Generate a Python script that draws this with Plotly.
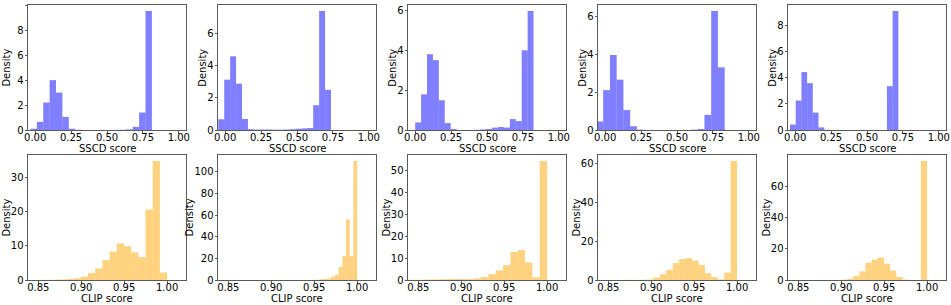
import plotly.graph_objects as go

# ---------------- data ----------------
# SSCD score histograms (density), one per panel: first bin left edge, bin width, densities
sscd_bin_start = [-0.033, -0.048, 0.0, -0.061, -0.036]
sscd_bin_width = [0.0445, 0.0413, 0.0412, 0.047, 0.0397]
sscd_density_1 = [0.1, 0.65, 2.2, 4.0, 3.0, 1.05, 0.1, 0.02, 0, 0, 0, 0, 0, 0.01, 0.02, 0.05, 0.25, 1.4, 9.55]
sscd_density_2 = [0.67, 3.14, 4.6, 2.89, 0.69, 0.05, 0.03, 0.03, 0.03, 0.02, 0.02, 0.03, 0.05, 0.08, 0.1, 0.12, 1.55, 7.43, 2.51]
sscd_density_3 = [0.38, 1.8, 3.82, 3.52, 1.5, 0.35, 0.05, 0, 0, 0, 0.01, 0.03, 0.05, 0.12, 0.15, 0.12, 0.55, 0.45, 4.02, 6.0]
sscd_density_4 = [0.45, 2.1, 3.95, 2.65, 1.05, 0.2, 0.02, 0, 0, 0, 0, 0, 0, 0, 0.02, 0.05, 0.8, 6.27, 3.3]
sscd_density_5 = [0.42, 2.25, 4.43, 3.58, 1.33, 0.2, 0.02, 0, 0, 0, 0, 0, 0, 0, 0, 0, 0, 3.35, 9.1]

# CLIP score histograms (density)
clip_bin_start = [0.8326, 0.914, 0.8292, 0.85, 0.8564]
clip_bin_width = [0.00837, 0.0043, 0.00854, 0.0075, 0.00718]
clip_density_1 = [0.02, 0.02, 0.03, 0.05, 0.1, 0.15, 0.3, 0.5, 1.0, 2.0, 3.4, 5.8, 8.3, 10.7, 9.9, 8.1, 6.7, 20.6, 34.8, 2.2]
clip_density_2 = [0.03, 0.03, 0.03, 0.05, 0.05, 0.05, 0.05, 0.05, 0.1, 0.3, 0.8, 1.0, 1.5, 3.0, 5.0, 12.0, 22.0, 56.0, 22.0, 110.0]
clip_density_3 = [0.1, 0.1, 0.1, 0.2, 0.3, 0.3, 0.4, 0.5, 0.4, 0.4, 0.7, 1.3, 2.7, 4.4, 6.8, 12.8, 13.7, 8.0, 1.2, 54.5]
clip_density_4 = [0.02, 0.02, 0.03, 0.05, 0.05, 0.1, 0.3, 1.3, 3.0, 5.2, 8.7, 10.8, 11.3, 10.0, 7.8, 3.5, 1.5, 0.3, 3.8, 61.5]
clip_density_5 = [0.02, 0.02, 0.03, 0.05, 0.05, 0.1, 0.2, 0.8, 2.5, 5.5, 11.0, 13.0, 14.3, 10.4, 6.0, 1.9, 0.3, 0, 0, 76.0]

sscd_ticks = [0.0, 0.25, 0.5, 0.75, 1.0]
clip_ticks = [0.85, 0.90, 0.95, 1.00]
sscd_ydtick = [2, 2, 2, 2, 2]
clip_ydtick = [10, 20, 10, 20, 20]

x_label_top = "SSCD score"
x_label_bottom = "CLIP score"
y_label = "Density"

# ---------------- styling / layout ----------------
W, H = 951, 305
FONT = "DejaVu Sans"
FS = 10
BLUE = "rgba(0,0,255,0.5)"
ORANGE = "rgba(255,165,0,0.5)"
SPINE = "#5a5a5a"

panel_left_px = [28, 218, 408, 598, 788]
panel_w_px = 158
row_px = [(5, 130), (155, 280)]
xtitle_center_px = [148.5, 298]

sscd_sets = [sscd_density_1, sscd_density_2, sscd_density_3, sscd_density_4, sscd_density_5]
clip_sets = [clip_density_1, clip_density_2, clip_density_3, clip_density_4, clip_density_5]

fig = go.Figure()
layout = dict(
    width=W, height=H, margin=dict(l=0, r=0, t=0, b=0, autoexpand=False),
    paper_bgcolor="white", plot_bgcolor="white",
    showlegend=False, font=dict(family=FONT, size=FS, color="black"),
)
annotations = []


def axis_common():
    return dict(
        showgrid=False, zeroline=False, showline=True, linecolor=SPINE, linewidth=1,
        mirror=True, ticks="outside", ticklen=2.5, tickwidth=1, tickcolor=SPINE,
        tickfont=dict(family=FONT, size=FS, color="black"), automargin=False,
    )


n = 0
for row, (dsets, starts, widths, color, xr, xticks, xt, ydt) in enumerate([
    (sscd_sets, sscd_bin_start, sscd_bin_width, BLUE, [-0.05, 1.05], sscd_ticks, x_label_top, sscd_ydtick),
    (clip_sets, clip_bin_start, clip_bin_width, ORANGE, [0.838, 1.022], clip_ticks, x_label_bottom, clip_ydtick),
]):
    top, bot = row_px[row]
    for col in range(5):
        n += 1
        dens = dsets[col]
        w = widths[col]
        centers = [starts[col] + w * (i + 0.5) for i in range(len(dens))]
        xa = "x" if n == 1 else f"x{n}"
        ya = "y" if n == 1 else f"y{n}"
        fig.add_trace(go.Bar(
            x=centers, y=dens, width=w, marker=dict(color=color, line=dict(width=0)),
            xaxis=xa, yaxis=ya, hoverinfo="x+y",
        ))
        left = panel_left_px[col]
        xd = [left / W, (left + panel_w_px) / W]
        yd = [(H - bot) / H, (H - top) / H]
        xax = axis_common()
        xax.update(domain=xd, range=xr, tickvals=xticks, tickformat=".2f", anchor=ya,
                   ticklabelstandoff=-5)
        ymax = max(dens) * 1.05
        yax = axis_common()
        yax.update(domain=yd, range=[0, ymax], dtick=ydt[col], tick0=0, anchor=xa,
                   ticklabelstandoff=-1)
        layout["xaxis" if n == 1 else f"xaxis{n}"] = xax
        layout["yaxis" if n == 1 else f"yaxis{n}"] = yax

        # axis titles as annotations (matplotlib-like placement)
        annotations.append(dict(
            text=xt, xref="paper", yref="paper", showarrow=False,
            x=(left + panel_w_px / 2) / W, y=(H - xtitle_center_px[row]) / H,
            xanchor="center", yanchor="middle", font=dict(family=FONT, size=FS),
        ))
        top_tick = int(ymax // ydt[col]) * ydt[col]
        ndig = len(str(top_tick))
        offset = 9.5 + 6.2 * ndig
        annotations.append(dict(
            text=y_label, xref="paper", yref="paper", showarrow=False, textangle=-90,
            x=(left - offset) / W, y=(H - (top + bot) / 2) / H,
            xanchor="center", yanchor="middle", font=dict(family=FONT, size=FS),
        ))

layout["annotations"] = annotations
fig.update_layout(**layout)
fig.write_html(
    "out.html",
    config={"displayModeBar": False},
    post_script="document.body.style.margin='0';document.body.style.overflow='hidden';",
)
